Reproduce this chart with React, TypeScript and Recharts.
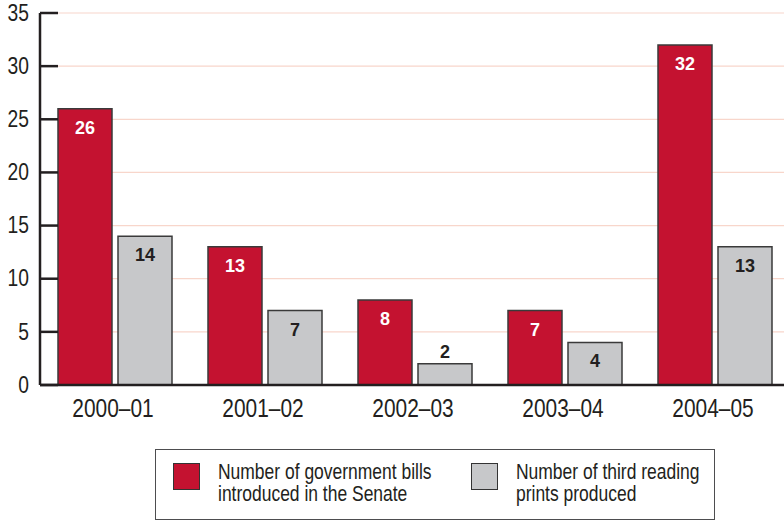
import React from "react";
import { BarChart, Bar, XAxis, YAxis, CartesianGrid, LabelList } from "recharts";

const categories = ["2000–01", "2001–02", "2002–03", "2003–04", "2004–05"];
const billsIntroduced = [26, 13, 8, 7, 32];
const thirdReadingPrints = [14, 7, 2, 4, 13];
const yTicks = [0, 5, 10, 15, 20, 25, 30, 35];
const seriesNames = [
  ["Number of government bills", "introduced in the Senate"],
  ["Number of third reading", "prints produced"],
];

const data = categories.map((c, i) => ({
  cat: c,
  bills: billsIntroduced[i],
  prints: thirdReadingPrints[i],
}));

const RED = "#c41230";
const GRAY = "#c7c8ca";
const INK = "#231f20";
const FONT = "'Liberation Sans', Arial, sans-serif";
const SQUEEZE = 0.82;

const YTick = (props: any) => {
  const { x, y, payload } = props;
  return (
    <g>
      <line x1={x} x2={x + 18} y1={y} y2={y} stroke={INK} strokeWidth={2.5} />
      <text
        transform={`translate(${x - 11},${y}) scale(${SQUEEZE},1)`}
        x={0}
        y={0}
        textAnchor="end"
        dominantBaseline="central"
        fontSize={23.5}
        fill={INK}
        fontFamily={FONT}
      >
        {payload.value}
      </text>
    </g>
  );
};

const XTick = (props: any) => {
  const { x, y, payload } = props;
  return (
    <text
      transform={`translate(${x - 2},${y + 15}) scale(${SQUEEZE},1)`}
      x={0}
      y={0}
      textAnchor="middle"
      dominantBaseline="central"
      fontSize={25.5}
      fill={INK}
      fontFamily={FONT}
    >
      {payload.value}
    </text>
  );
};

const BoundaryTick = (props: any) => {
  const { x, y } = props;
  return <line x1={x} x2={x} y1={y} y2={y - 9} stroke={INK} strokeWidth={2} />;
};

const makeLabel = (color: string) => (props: any) => {
  const { x, y, width, height, value } = props;
  const inside = height > 30;
  return (
    <text
      x={x + width / 2}
      y={inside ? y + 19 : y - 12}
      textAnchor="middle"
      dominantBaseline="central"
      fontSize={18}
      fontWeight="bold"
      fill={inside ? color : INK}
      fontFamily={FONT}
    >
      {value}
    </text>
  );
};

const legendItems = [
  { color: RED, lines: seriesNames[0], swatchLeft: 17, textLeft: 62 },
  { color: GRAY, lines: seriesNames[1], swatchLeft: 315, textLeft: 360 },
];

const LegendBox = () => (
  <div
    style={{
      position: "absolute",
      left: 155,
      top: 449,
      width: 560,
      height: 71,
      boxSizing: "border-box",
      border: "1.5px solid #4d4d4f",
      background: "#fff",
      fontFamily: FONT,
      fontSize: 21.3,
      lineHeight: "22px",
      color: INK,
    }}
  >
    {legendItems.map((it, i) => (
      <React.Fragment key={i}>
        <div
          style={{
            position: "absolute",
            left: it.swatchLeft,
            top: 13,
            width: 27,
            height: 27,
            boxSizing: "border-box",
            background: it.color,
            border: "1.3px solid #333",
          }}
        />
        <div
          style={{
            position: "absolute",
            left: it.textLeft,
            top: 11,
            whiteSpace: "nowrap",
            transform: `scaleX(${SQUEEZE})`,
            transformOrigin: "0 0",
          }}
        >
          <div>{it.lines[0]}</div>
          <div>{it.lines[1]}</div>
        </div>
      </React.Fragment>
    ))}
  </div>
);

export default function App() {
  return (
    <div
      style={{
        position: "absolute",
        left: 0,
        top: 0,
        width: 784,
        height: 521,
        overflow: "hidden",
        background: "#fff",
      }}
    >
      <BarChart
        width={790}
        height={521}
        data={data}
        margin={{ top: 13, right: 0, left: 0, bottom: 106 }}
        barCategoryGap={18}
        barGap={6}
      >
        <CartesianGrid horizontal={true} vertical={false} stroke="#f8d6cb" strokeWidth={1.2} />
        <XAxis
          xAxisId="bounds"
          type="number"
          dataKey={() => 0}
          domain={[0, categories.length]}
          ticks={[1, 2, 3, 4]}
          tick={<BoundaryTick />}
          tickLine={false}
          axisLine={false}
          tickSize={0}
          tickMargin={0}
          height={0}
          allowDataOverflow
        />
        <XAxis
          xAxisId="cat"
          dataKey="cat"
          tick={<XTick />}
          tickLine={false}
          axisLine={{ stroke: INK, strokeWidth: 2.5 }}
          height={30}
          interval={0}
        />
        <YAxis
          domain={[0, 35]}
          ticks={yTicks}
          width={40}
          tick={<YTick />}
          tickLine={false}
          tickSize={0}
          tickMargin={0}
          axisLine={{ stroke: INK, strokeWidth: 2.5 }}
          interval={0}
        />
        <Bar
          xAxisId="cat"
          dataKey="bills"
          name="Number of government bills introduced in the Senate"
          fill={RED}
          stroke="#3a3a3a"
          strokeWidth={1.5}
          isAnimationActive={false}
        >
          <LabelList dataKey="bills" content={makeLabel("#ffffff")} />
        </Bar>
        <Bar
          xAxisId="cat"
          dataKey="prints"
          name="Number of third reading prints produced"
          fill={GRAY}
          stroke="#3a3a3a"
          strokeWidth={1.5}
          isAnimationActive={false}
        >
          <LabelList dataKey="prints" content={makeLabel(INK)} />
        </Bar>
      </BarChart>
      <LegendBox />
    </div>
  );
}
